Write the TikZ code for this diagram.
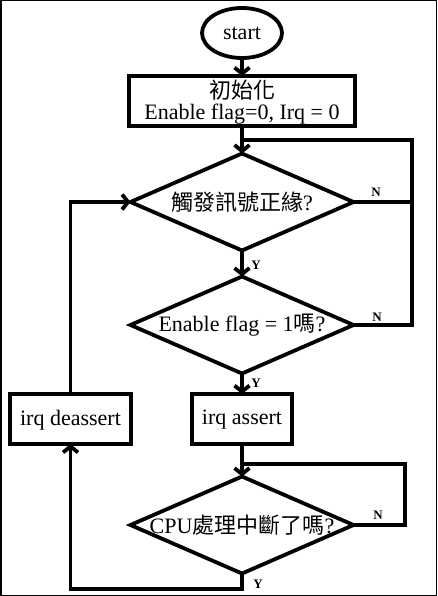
\documentclass[tikz,border=0pt]{standalone}
\usepackage{fontspec}
\setmainfont{Liberation Serif}
\newfontfamily\cjk{Noto Sans CJK TC}
\usetikzlibrary{shapes.geometric,arrows.meta}
\begin{document}
\begin{tikzpicture}[x=1pt,y=-1pt,
  every node/.style={font=\fontsize{22}{25}\selectfont},
  box/.style={draw,line width=3.8pt,inner sep=0pt,outer sep=0pt,minimum height=50pt},
  dia/.style={draw,diamond,line width=3.8pt,inner sep=0pt,outer sep=0pt,minimum width=223pt,minimum height=97pt},
  flow/.style={line width=3.8pt},
  arr/.style={flow,-{Straight Barb[length=6pt,width=15pt]}},
  yn/.style={font=\fontsize{13}{13}\selectfont\bfseries,inner sep=0pt}]
\useasboundingbox (0,0) rectangle (437,596);
\draw[line width=1.5pt] (0.75,0.75) rectangle (436.25,595.25);
% nodes
\node[draw,ellipse,line width=3.8pt,minimum width=80pt,minimum height=50pt,inner sep=0pt,outer sep=0pt] (start) at (242,33) {start};
\node[box,minimum width=226pt,
  label={[yshift=11pt]center:{\cjk 初始化}},
  label={[yshift=-13pt]center:Enable flag=0, Irq = 0}] (init) at (242,101) {};
\node[dia,label={center:{\cjk 觸發訊號正緣}?}] (d1) at (242,202) {};
\node[dia,label={center:Enable flag = 1{\cjk 嗎}?}] (d2) at (242,325) {};
\node[box,minimum width=100pt,label={[yshift=-1pt]center:irq assert}] (assert) at (242,419) {};
\node[box,minimum width=121pt,label={[yshift=-1pt]center:irq deassert}] (deassert) at (70.5,419) {};
\node[dia,label={center:CPU{\cjk 處理中斷了嗎}?}] (d3) at (242,525) {};
% coordinates
\coordinate (j1) at (242,140);
\coordinate (r1) at (412,140);
\coordinate (j2) at (242,464);
\coordinate (r2) at (405,464);
\coordinate (b1) at (242,589);
% connectors
\draw[arr] (start) -- (init);
\draw[arr] (init) -- (d1);
\draw[arr] (d1) -- (d2);
\draw[arr] (d2) -- (assert);
\draw[arr] (assert) -- (d3);
\draw[flow] (d1.east) -| (r1) -- (j1);
\draw[flow] (d2.east) -| (r1);
\draw[flow] (d3.east) -| (r2) -- (j2);
\draw[arr] (deassert.north) |- (d1.west);
\draw[arr] (d3.south) -- (b1) -| (deassert.south);
% labels
\node[yn] (n1) at (376,192) {N};
\node[yn] (n2) at (377,317) {N};
\node[yn] (n3) at (378,515) {N};
\node[yn] (y1) at (256,265) {Y};
\node[yn] (y2) at (256,383) {Y};
\node[yn] (y3) at (258,584) {Y};
\end{tikzpicture}
\end{document}
